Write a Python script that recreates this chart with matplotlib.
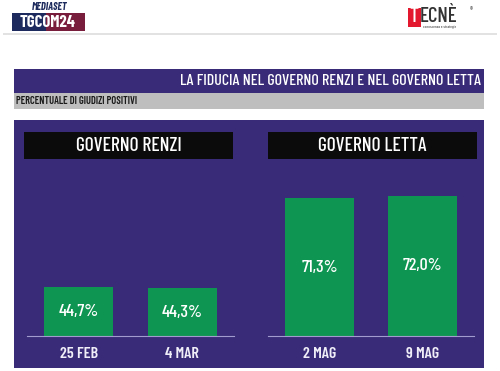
import matplotlib
matplotlib.use('Agg')
import matplotlib.pyplot as plt
from matplotlib.patches import Rectangle

# data
renziDates = ['25 FEB', '4 MAR']
renziValues = [44.7, 44.3]
lettaDates = ['2 MAG', '9 MAG']
lettaValues = [71.3, 72.0]
panelTitles = ['GOVERNO RENZI', 'GOVERNO LETTA']
mainTitle = 'LA FIDUCIA NEL GOVERNO RENZI E NEL GOVERNO LETTA'
subTitle = 'PERCENTUALE DI GIUDIZI POSITIVI'

W, H = 500, 371
purple = '#392b77'
green = '#0f9552'
lavender = '#a29bd0'
font = ['Barlow Condensed', 'DejaVu Sans']

plt.rcParams['font.family'] = font
plt.rcParams['font.weight'] = 'medium'

fig = plt.figure(figsize=(W / 100, H / 100), dpi=100)
fig.patch.set_facecolor('white')

def box(x0, y0, x1, y1, color, **kw):
    # pixel coords, y from top
    fig.patches.append(Rectangle((x0 / W, 1 - y1 / H), (x1 - x0) / W, (y1 - y0) / H,
                                 transform=fig.transFigure, facecolor=color,
                                 edgecolor='none', **kw))

def txt(x, y, s, **kw):
    fig.text(x / W, 1 - y / H, s, **kw)

# logos
txt(50, 7.5, 'MEDIASET', fontsize=7.5, color='#1d2a5c', weight='bold', style='italic',
    ha='center', va='center')
box(12, 13, 85, 31, '#1c2a5e')
box(46, 13, 85, 31, '#a0182e', alpha=0.7)
txt(48, 22.5, 'TGCOM24', fontsize=12, color='white', weight='bold', ha='center',
    va='center')
box(408, 8, 421, 27, '#e3172d')
txt(409, 16.5, 'T', fontsize=15, color='white', ha='left', va='center')
txt(420, 16.5, 'ECNÈ', fontsize=15, color='#333333', ha='left', va='center')
txt(471, 10, '®', fontsize=5, color='#555555', ha='center', va='center')
txt(423, 27, 'conoscenza e strategie', fontsize=3, color='#555555', ha='left', va='center')
box(3, 33, 497, 35, '#e2e2e2')

# title bars
box(14, 69, 484, 93, purple)
txt(481, 81, mainTitle, fontsize=11.5, color='white', ha='right', va='center')
box(14, 93, 484, 109, '#bebebe')
txt(16, 101, subTitle, fontsize=7.5, color='#1a1a1a', ha='left', va='center',
    weight='semibold')

# main panel
box(14, 120, 484, 368, purple)

panels = [(renziDates, renziValues, 27, 234, 24, 233),
          (lettaDates, lettaValues, 268, 474, 268, 477)]
ybase, ytop = 336, 160
for i, (dates, vals, ax0, ax1, hx0, hx1) in enumerate(panels):
    box(hx0, 132, hx1, 159, '#0b0b0b')
    txt((hx0 + hx1) / 2, 146, panelTitles[i], fontsize=14, color='white',
        ha='center', va='center')
    ax = fig.add_axes([ax0 / W, 1 - ybase / H, (ax1 - ax0) / W, (ybase - ytop) / H])
    ax.set_zorder(3)
    ax.set_facecolor('none')
    ax.bar(range(len(vals)), vals, width=0.67, color=green, bottom=0)
    ax.set_xlim(-0.5, 1.5)
    ax.set_ylim(30.1, 30.1 + (ybase - ytop) / 3.346)
    for k, v in enumerate(vals):
        ax.text(k, (30.1 + v) / 2, ('%.1f%%' % v).replace('.', ','), color='white',
                fontsize=13, ha='center', va='center')
    for s in ['top', 'left', 'right']:
        ax.spines[s].set_visible(False)
    ax.spines['bottom'].set_color(lavender)
    ax.spines['bottom'].set_linewidth(0.8)
    ax.set_yticks([])
    ax.set_xticks(range(len(dates)))
    ax.set_xticklabels(dates, fontsize=11.5, color='#f0eef8', weight='semibold')
    ax.tick_params(axis='x', length=0, pad=8)

fig.savefig('out.png', dpi=100, facecolor='white')
